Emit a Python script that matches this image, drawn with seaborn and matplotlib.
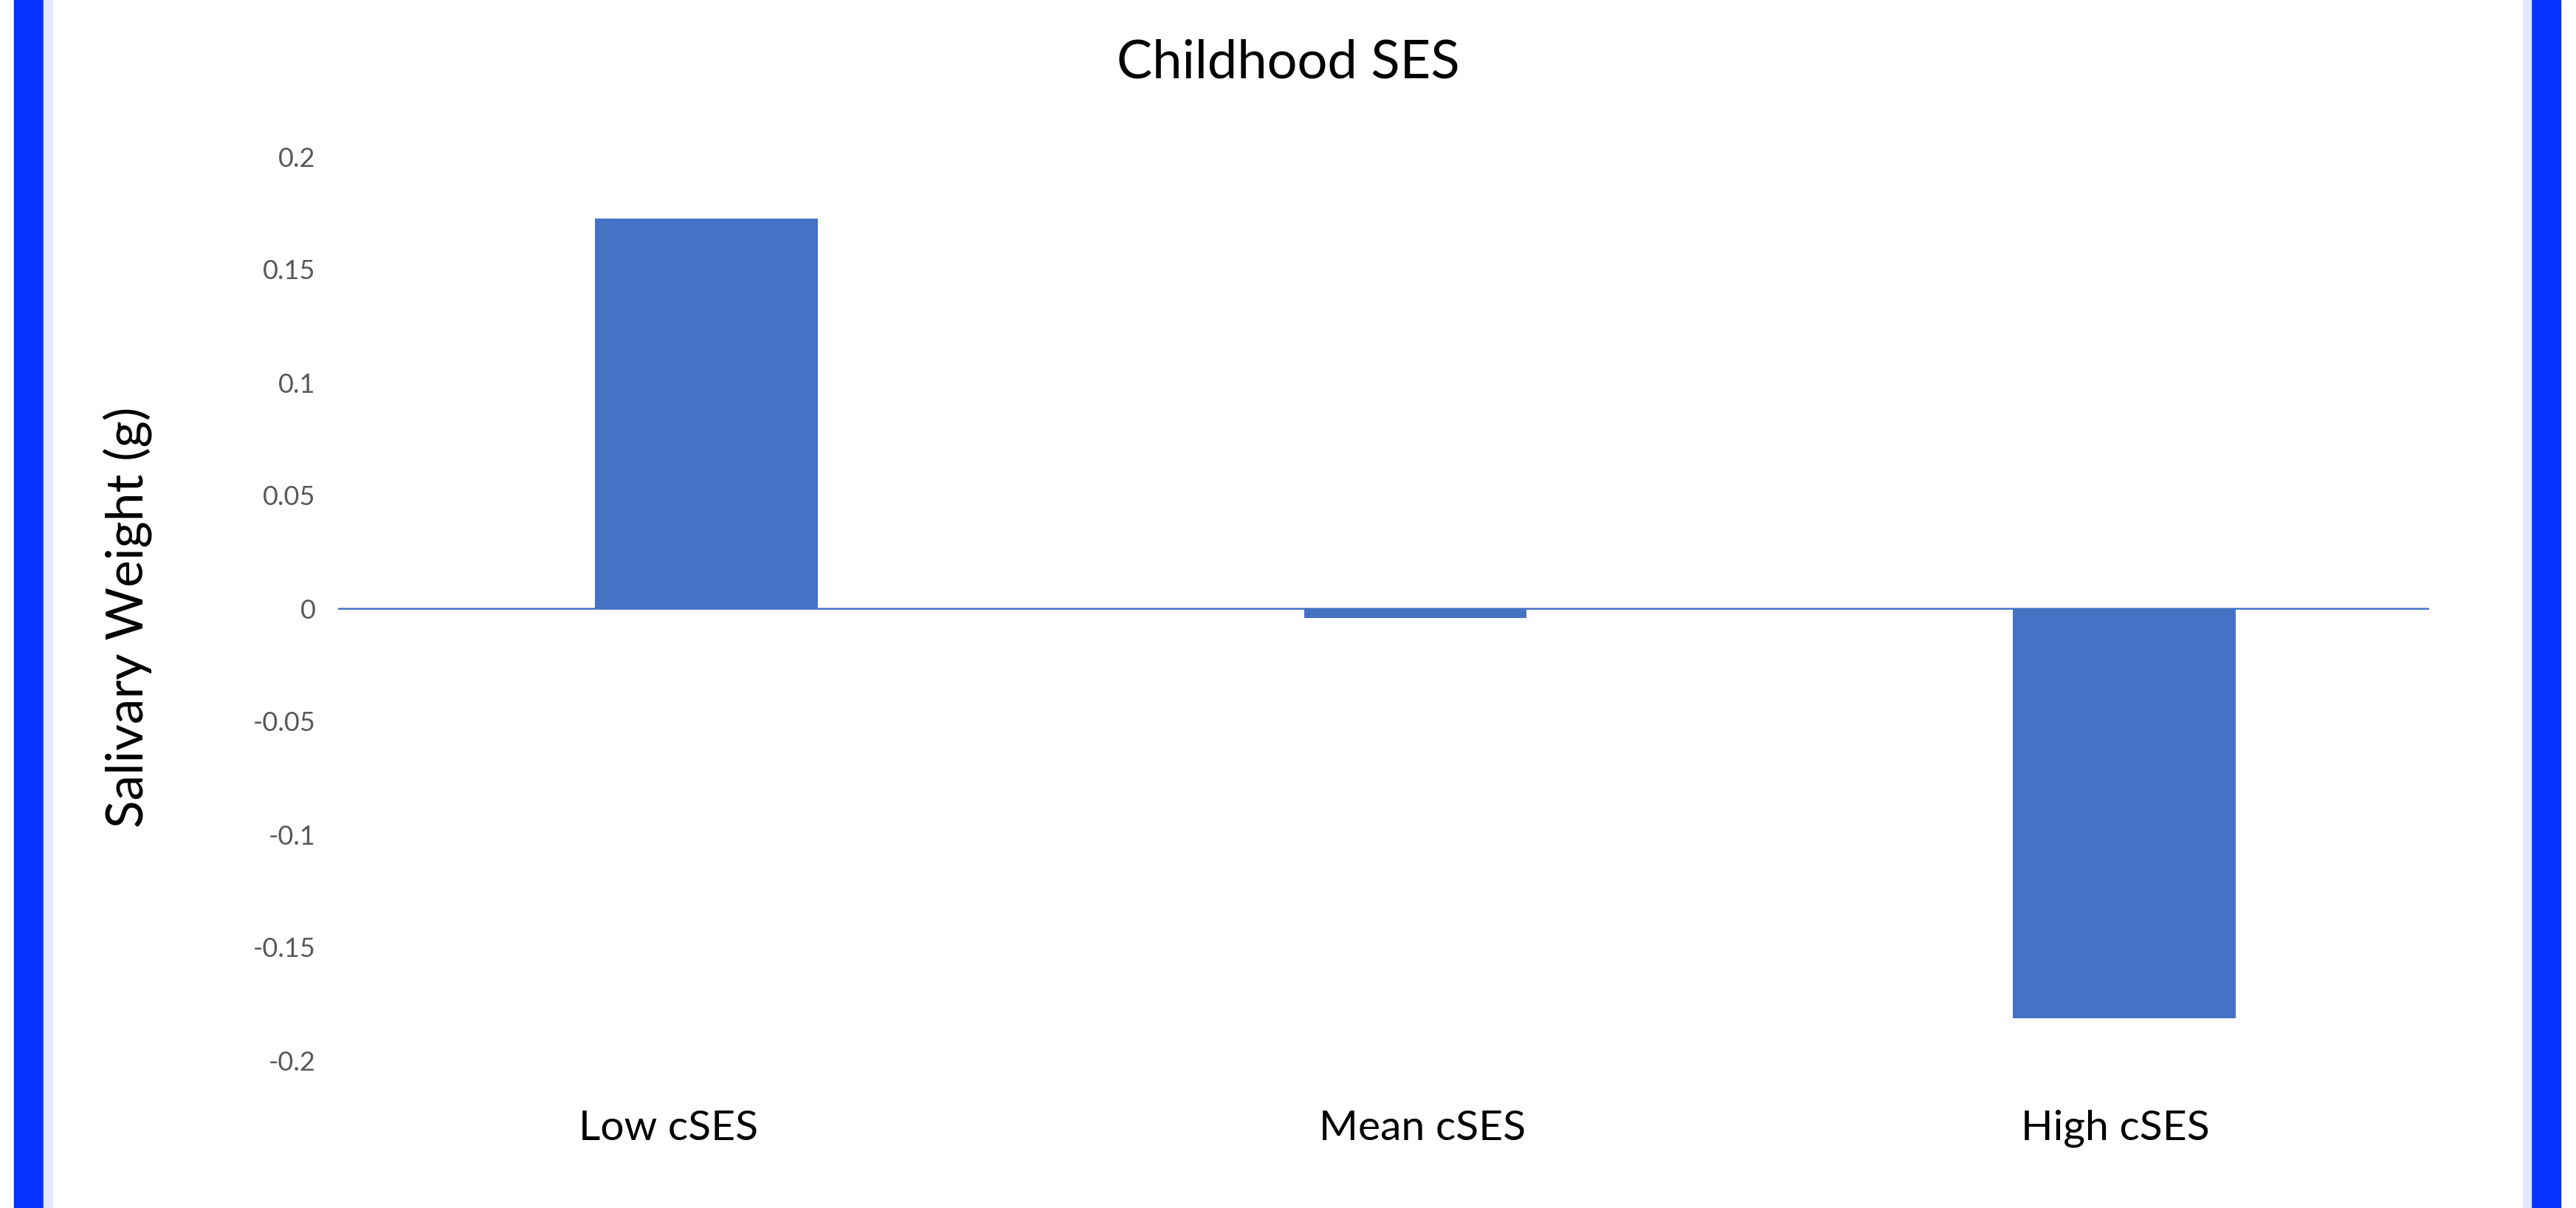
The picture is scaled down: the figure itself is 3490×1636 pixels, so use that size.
import matplotlib
matplotlib.use("Agg")
import matplotlib.pyplot as plt
import matplotlib.transforms as mtransforms
import seaborn as sns
from matplotlib.patches import Rectangle

categories = ["Low cSES", "Mean cSES", "High cSES"]
weights = [0.1725, -0.0042, -0.1815]
y_ticks = [0.2, 0.15, 0.1, 0.05, 0, -0.05, -0.1, -0.15, -0.2]
y_tick_labels = ["0.2", "0.15", "0.1", "0.05", "0", "-0.05", "-0.1", "-0.15", "-0.2"]
# the category labels in the original sit a little off the bar centres (pixels)
label_shift = [-51, 10, -12]

BAR = "#4472C4"
FONT = ["Lato", "DejaVu Sans"]

sns.set_theme(style="white")
plt.rcParams["font.family"] = FONT

fig = plt.figure(figsize=(34.9, 16.36), dpi=100)
fig.patch.set_facecolor("white")

# blue frame on the left and right edges
for x0, w in [(19, 40), (3429, 40)]:
    fig.patches.append(Rectangle((x0 / 3490, 0), w / 3490, 1, transform=fig.transFigure,
                                 color="#0433FF", zorder=0))
for x0, w in [(59, 12), (3418, 11)]:
    fig.patches.append(Rectangle((x0 / 3490, 0), w / 3490, 1, transform=fig.transFigure,
                                 color="#E3E8FE", zorder=0))

ax = fig.add_axes([458 / 3490, 1 - 1436 / 1636, (3291 - 458) / 3490, (1436 - 212) / 1636])
ax.set_facecolor("none")

sns.barplot(x=categories, y=weights, color=BAR, saturation=1, width=0.314,
            linewidth=0, ax=ax)

ax.set_ylim(-0.2, 0.2)
ax.set_xlim(-0.5195, 2.43)
ax.set_yticks(y_ticks)
ax.set_yticklabels(y_tick_labels)
ax.tick_params(axis="y", length=0, pad=22, labelsize=26, labelcolor="#595959")
ax.tick_params(axis="x", length=0, pad=48, labelsize=41, labelcolor="black")

for lab, dx in zip(ax.get_xticklabels(), label_shift):
    lab.set_transform(lab.get_transform() + mtransforms.Affine2D().translate(dx, 0))

for s in ["top", "right", "left", "bottom"]:
    ax.spines[s].set_visible(False)
ax.axhline(0, color=BAR, linewidth=1.8, zorder=1)

ax.set_xlabel("")
ax.set_ylabel("Salivary Weight (g)", fontsize=50, color="black")
ax.yaxis.set_label_coords(-0.089, 0.49)

fig.text(0.5, 1 - 85 / 1636, "Childhood SES", ha="center", va="center",
         fontsize=52, color="black")

fig.savefig("out.png", dpi=100)
